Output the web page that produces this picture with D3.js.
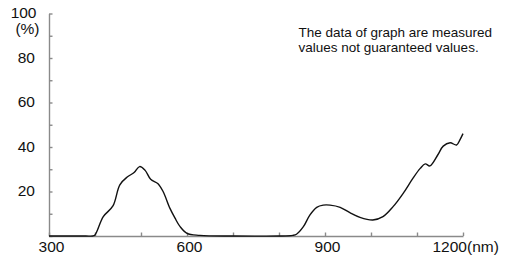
<!DOCTYPE html>
<html lang="en">
<head>
<meta charset="UTF-8">
<title>Spectral transmittance</title>
<script src="https://d3js.org/d3.v7.min.js"></script>
<style>
  body { margin: 0; background: #fff; }
  svg { font-family: "Liberation Sans", Arial, sans-serif; }
</style>
</head>
<body>
<svg width="510" height="257"></svg>
<script>
    // wavelength (nm) and measured value (%)
    const wavelength = [300, 380, 395, 400, 418, 439, 454, 470, 485, 497, 509, 521, 537, 548, 563, 574, 585, 600, 628, 700,
        800, 830, 838, 853, 867, 882, 896, 911, 933, 954, 976, 1004, 1026, 1048, 1070, 1091, 1107, 1118, 1128, 1145,
        1157, 1172, 1186, 1193, 1200];
    const percent = [0, 0, 0, 0.5, 8.7, 13.5, 23, 26.5, 28.5, 31.2, 29.5, 25.5, 23.5, 20, 12.4, 8, 4.2, 1.2, 0.3, 0,
        0, 0.3, 0.8, 4.2, 9.4, 12.9, 13.9, 13.9, 12.9, 10.5, 8.4, 7.2, 8.7, 13.2, 19.2, 25.9, 30.4, 32.4, 31.5, 36.4,
        40.4, 41.9, 40.9, 43.1, 46];

    const xTicks = [300, 400, 500, 600, 700, 800, 900, 1000, 1100, 1200];
    const xLabels = [300, 600, 900];
    const yTicks = [0, 10, 20, 30, 40, 50, 60, 70, 80, 90, 100];
    const yLabels = [20, 40, 60, 80, 100];

    const svg = d3.select('svg');
    const x = d3.scaleLinear().domain([300, 1200]).range([49, 463]);
    const y = d3.scaleLinear().domain([0, 100]).range([236, 13.5]);

    const axisColor = '#8a8a8a';
    const fontSize = 15.5;

    // y axis, ticks point inward
    const yAxis = svg.append('g')
        .attr('transform', 'translate(49,0)')
        .call(d3.axisLeft(y).tickValues(yTicks).tickSize(-3.5).tickFormat('').tickSizeOuter(0));
    yAxis.selectAll('path, line').attr('stroke', axisColor).attr('stroke-width', 1.4);

    // x axis
    const xAxis = svg.append('g')
        .attr('transform', 'translate(0,236)')
        .call(d3.axisBottom(x).tickValues(xTicks).tickSize(-3.5).tickFormat('').tickSizeOuter(0));
    xAxis.selectAll('path, line').attr('stroke', axisColor).attr('stroke-width', 1.4);

    // labels
    svg.append('g').selectAll('text')
        .data(yLabels)
        .enter().append('text')
        .attr('x', d => d === 100 ? 36.5 : 35)
        .attr('y', d => y(d) + 4.8)
        .attr('text-anchor', 'end')
        .attr('font-size', fontSize)
        .attr('fill', '#111')
        .text(d => d);

    svg.append('text')
        .attr('x', 39.5).attr('y', 34)
        .attr('text-anchor', 'end')
        .attr('font-size', fontSize)
        .attr('fill', '#111')
        .text('(%)');

    svg.append('g').selectAll('text')
        .data(xLabels)
        .enter().append('text')
        .attr('x', d => x(d) + 2.5)
        .attr('y', 252)
        .attr('text-anchor', 'middle')
        .attr('font-size', fontSize)
        .attr('fill', '#111')
        .text(d => d);

    svg.append('text')
        .attr('x', 432.5).attr('y', 252)
        .attr('font-size', fontSize)
        .attr('fill', '#111')
        .text('1200(nm)');

    // note
    const note = svg.append('text')
        .attr('font-size', 13.5)
        .attr('fill', '#111');
    note.append('tspan').attr('x', 298.5).attr('y', 36.5).text('The data of graph are measured');
    note.append('tspan').attr('x', 298.5).attr('y', 52).text('values not guaranteed values.');

    // curve
    const pts = wavelength.map((w, i) => [w, percent[i]]);
    const line = d3.line()
        .x(d => x(d[0]))
        .y(d => y(d[1]))
        .curve(d3.curveCatmullRom.alpha(0.5));

    svg.append('path')
        .datum(pts)
        .attr('fill', 'none')
        .attr('stroke', '#111')
        .attr('stroke-width', 1.4)
        .attr('d', line);
</script>
</body>
</html>
